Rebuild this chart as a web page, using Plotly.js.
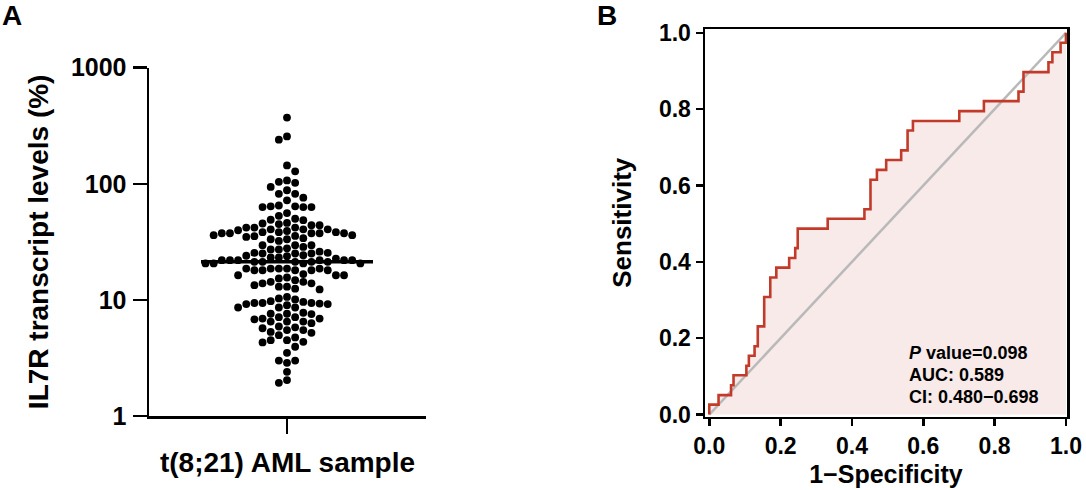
<!DOCTYPE html>
<html>
<head>
<meta charset="utf-8">
<script src="https://cdn.plot.ly/plotly-3.0.1.min.js"></script>
<style>
  html, body { margin: 0; padding: 0; background: #fff; }
  #chart { width: 1086px; height: 490px; }
</style>
</head>
<body>
<div id="chart"></div>
<script>
// Panel A: IL7R transcript levels (%) per t(8;21) AML sample
const il7rLevels = [
  372, 256, 240, 144, 128, 107, 104, 102, 94, 88, 82, 82, 76, 72,
  64, 63, 64, 63, 65, 63,
  56, 53,
  48.6, 46, 49, 50,
  40.5, 44, 42, 42, 45.5, 45, 44, 42, 40.5, 40.5,
  37.5, 37.5, 35.6, 38.3, 37.5, 36.1, 36.1, 38.3, 38.3, 39.2, 39.8, 37.5, 37.5, 35.4, 34.9,
  32.2, 33.3, 34, 33.3,
  27.2, 29.6, 27.2, 29.6, 29.6, 28.6, 27.8,
  24, 24.3, 25.4, 25.1, 23.2, 22.7, 25.1, 25.1, 25.4, 23.2, 26, 23.8,
  20.6, 20.6, 22, 21.3, 22, 22, 21.3, 22, 21.3, 21.3, 22, 21.3, 22, 20.6, 20.6,
  18.6, 18, 18.6, 18, 18, 18, 18, 18.6, 18.6, 18.6,
  16.3, 16.7, 15.6, 16.3, 16.3, 15.3,
  13.4, 13.9, 13.9, 13, 14.3, 14.8, 12.3, 12.5, 13, 14.3,
  10.6, 10.1, 10.3,
  9.4, 9.4, 9.4, 9.75, 8.6, 9.2, 9.6, 9.3, 9.2, 9.0, 8.6, 8.6,
  7.55, 7.6, 7.6, 7.75,
  6.8, 6.9, 7.1, 6.5, 6.3, 7.1, 6.5, 6.9, 6.5,
  5.9, 5.7, 5.8,
  5.2, 5.5, 5.5, 5.3, 4.97,
  4.3, 4.5, 4.75, 4.35, 4.5,
  3.95, 3.5, 3.0, 2.87, 3.0, 2.4, 1.93, 2.04
];
const levelTicks = [1, 10, 100, 1000];
const levelTickText = ['1', '10', '100', '1000'];

// Panel B: ROC curve (1-specificity, sensitivity) at each step
const fpr = [0, 0, 0.026, 0.061, 0.068, 0.104, 0.111, 0.127, 0.136, 0.154, 0.171,
  0.188, 0.224, 0.241, 0.248, 0.332, 0.435, 0.452, 0.470, 0.496, 0.538, 0.556,
  0.571, 0.701, 0.770, 0.867, 0.881, 0.951, 0.962, 0.985, 1.0];
const sens = [0, 0.026, 0.051, 0.077, 0.103, 0.128, 0.154, 0.179, 0.231, 0.308, 0.359,
  0.385, 0.410, 0.436, 0.487, 0.513, 0.538, 0.615, 0.641, 0.667, 0.692, 0.744,
  0.769, 0.795, 0.821, 0.846, 0.897, 0.923, 0.949, 0.974, 1.0];
const rocTicks = [0, 0.2, 0.4, 0.6, 0.8, 1.0];
const rocTickText = ['0.0', '0.2', '0.4', '0.6', '0.8', '1.0'];
const rocStats = ['<i>P</i> value=0.098', 'AUC: 0.589', 'CI: 0.480\u22120.698'];

const FONT = 'Liberation Sans, Arial, Helvetica, sans-serif';
const W = 1086, H = 490;

// pixel boxes of both plot areas
const boxA = { l: 149, r: 426, t: 67.7, b: 416 };
const boxB = { l: 705, r: 1067, t: 29, b: 416.5 };

function domX(box) { return [box.l / W, box.r / W]; }
function domY(box) { return [(H - box.b) / H, (H - box.t) / H]; }

// GraphPad-like scatter: dots sit on columns, a column is used
// only if no dot in it is too close vertically
function swarm(values, pitch, gap, decadePx) {
  const order = values.map((v, i) => i).sort((a, b) => values[b] - values[a]);
  const cols = {};
  const xs = new Array(values.length);
  let left = 0, right = 0;
  order.forEach(i => {
    const y = Math.log10(values[i]) * decadePx;
    for (let s = 0; s < 100; s++) {
      let ks = s === 0 ? [0] : (left <= right ? [-s, s] : [s, -s]);
      let found = null;
      for (const k of ks) {
        const c = cols[k] || [];
        if (c.every(yy => Math.abs(yy - y) >= gap)) { found = k; break; }
      }
      if (found !== null) {
        (cols[found] = cols[found] || []).push(y);
        if (found < 0) left++;
        if (found > 0) right++;
        xs[i] = found * pitch;
        break;
      }
    }
  });
  return xs;
}

function median(arr) {
  const s = arr.slice().sort((a, b) => a - b);
  const m = Math.floor(s.length / 2);
  return s.length % 2 ? s[m] : (s[m - 1] + s[m]) / 2;
}

const decadePx = (boxA.b - boxA.t) / 3;
const swarmX = swarm(il7rLevels, 8.15, 7.8, decadePx);
const med = median(il7rLevels);
const centerPx = 287;

const traces = [
  {
    x: swarmX, y: il7rLevels, type: 'scatter', mode: 'markers',
    marker: { color: '#000', size: 7.8, line: { width: 0 } },
    xaxis: 'x', yaxis: 'y', hoverinfo: 'y'
  },
  {
    x: [-86, 86], y: [med, med], type: 'scatter', mode: 'lines',
    line: { color: '#000', width: 3.5 }, xaxis: 'x', yaxis: 'y', hoverinfo: 'skip'
  },
  {
    x: fpr, y: sens, type: 'scatter', mode: 'lines', fill: 'tozeroy',
    fillcolor: 'rgba(247,233,231,0.95)', line: { color: 'rgba(0,0,0,0)', width: 0, shape: 'hv' },
    xaxis: 'x2', yaxis: 'y2', hoverinfo: 'skip'
  },
  {
    x: [0, 1], y: [0, 1], type: 'scatter', mode: 'lines',
    line: { color: '#b9b9b9', width: 2.5 }, xaxis: 'x2', yaxis: 'y2', hoverinfo: 'skip'
  },
  {
    x: fpr, y: sens, type: 'scatter', mode: 'lines',
    line: { color: '#c23b2a', width: 2.6, shape: 'hv' },
    xaxis: 'x2', yaxis: 'y2'
  }
];

const bold = (size) => ({ family: FONT, size: size, color: '#000', weight: 700 });

const layout = {
  width: W, height: H,
  margin: { l: 0, r: 0, t: 0, b: 0 },
  paper_bgcolor: '#fff', plot_bgcolor: 'rgba(0,0,0,0)',
  showlegend: false,
  font: { family: FONT, color: '#000' },
  xaxis: {
    domain: domX(boxA), anchor: 'y',
    range: [boxA.l - centerPx, boxA.r - centerPx],
    showgrid: false, zeroline: false, showline: true, linecolor: '#000', linewidth: 2.5,
    ticks: 'outside', ticklen: 15, tickwidth: 2.5, tickcolor: '#000',
    tickvals: [0], ticktext: [''],
    title: { text: 't(8;21) AML sample', font: bold(28), standoff: 18 }
  },
  yaxis: {
    domain: domY(boxA), anchor: 'x', type: 'log', range: [0, 3],
    showgrid: false, zeroline: false, showline: true, linecolor: '#000', linewidth: 2.5,
    ticks: 'outside', ticklen: 14, tickwidth: 2.5, tickcolor: '#000',
    tickvals: levelTicks, ticktext: levelTickText, tickfont: bold(25),
    ticklabelstandoff: 1,
    title: { text: 'IL7R transcript levels (%)', font: bold(28), standoff: 14 }
  },
  xaxis2: {
    domain: domX(boxB), anchor: 'y2', range: [-0.012, 1.003],
    showgrid: false, zeroline: false, showline: true, mirror: true,
    linecolor: '#000', linewidth: 2.5,
    ticks: 'outside', ticklen: 7, tickwidth: 2.5, tickcolor: '#000',
    tickvals: rocTicks, ticktext: rocTickText, tickfont: bold(23),
    title: { text: '1\u2212Specificity', font: bold(25), standoff: 8 }
  },
  yaxis2: {
    domain: domY(boxB), anchor: 'x2', range: [-0.005, 1.01],
    showgrid: false, zeroline: false, showline: true, mirror: true,
    linecolor: '#000', linewidth: 2.5,
    ticks: 'outside', ticklen: 7, tickwidth: 2.5, tickcolor: '#000',
    tickvals: rocTicks, ticktext: rocTickText, tickfont: bold(23),
    title: { text: 'Sensitivity', font: bold(26), standoff: 20 }
  },
  annotations: [
    { text: 'A', xref: 'paper', yref: 'paper', x: 0, y: 1 - 15 / H,
      xanchor: 'left', yanchor: 'middle', showarrow: false, font: bold(28) },
    { text: 'B', xref: 'paper', yref: 'paper', x: 595 / W, y: 1 - 15 / H,
      xanchor: 'left', yanchor: 'middle', showarrow: false, font: bold(28) }
  ].concat(rocStats.map((t, i) => ({
    text: t, xref: 'x2', yref: 'y2', x: 0.553, y: [0.161, 0.1035, 0.046][i],
    xanchor: 'left', yanchor: 'middle', showarrow: false, font: bold(18)
  })))
};

Plotly.newPlot('chart', traces, layout, { staticPlot: true, displayModeBar: false });
</script>
</body>
</html>
